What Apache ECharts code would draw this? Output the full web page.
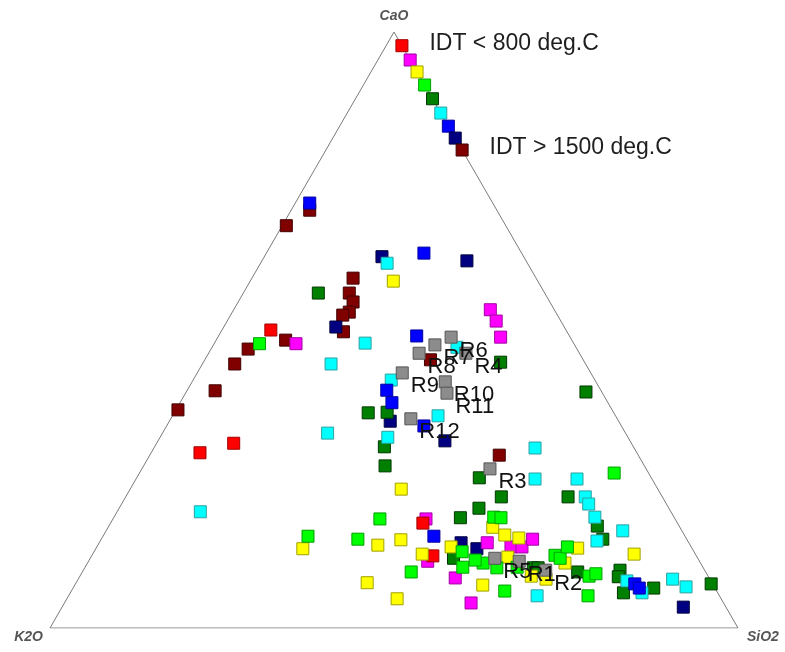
<!DOCTYPE html>
<html>
<head>
<meta charset="utf-8">
<script src="https://cdn.jsdelivr.net/npm/echarts@6/dist/echarts.min.js"></script>
<style>
  html, body { margin: 0; padding: 0; background: #ffffff; }
  #chart { width: 785px; height: 652px; }
</style>
</head>
<body>
<div id="chart"></div>
<script>
// Compositions are [CaO, SiO2, K2O] in percent.
const vertexNames = ['CaO', 'K2O', 'SiO2'];
const vertexComps = [[100, 0, 0], [0, 0, 100], [0, 100, 0]];

// Colour scale of the initial deformation temperature (IDT), low to high.
const scaleColors = ['#ff0000', '#ff00ff', '#ffff00', '#00ff00', '#008000', '#00ffff', '#0000ff', '#000080', '#800000'];
const scaleBorders = ['#a00000', '#a000a0', '#a0a000', '#00a000', '#003800', '#30a0a0', '#0000a0', '#000040', '#400000'];
const scaleCaO = [97.7, 95.3, 93.3, 91.1, 88.8, 86.4, 84.2, 82.2, 80.2];
const scaleText = ['IDT < 800 deg.C', '', '', '', '', '', '', '', 'IDT > 1500 deg.C'];

const redPts = [
  [50.0, 7.1, 42.9], [29.4, 7.1, 63.5], [31.0, 11.2, 57.8], [12.1, 49.6, 38.3], [17.6, 45.4, 37.0]
];
const magentaPts = [
  [47.7, 11.9, 40.4], [53.4, 37.3, 9.3], [51.5, 39.1, 9.4], [48.8, 41.1, 10.1], [18.3, 45.5, 36.2],
  [11.2, 49.3, 39.5], [8.4, 54.7, 36.9], [4.2, 59.1, 36.7], [14.3, 56.4, 29.3], [13.6, 60.2, 26.2],
  [13.6, 61.8, 24.6], [14.9, 62.7, 22.4]
];
const yellowPts = [
  [58.2, 20.8, 21.0], [23.3, 39.4, 37.3], [13.3, 30.1, 56.6], [13.9, 40.7, 45.4], [14.8, 43.6, 41.6],
  [7.6, 42.3, 50.1], [4.9, 48.0, 47.1], [12.4, 47.9, 39.7], [13.6, 51.5, 34.9], [16.9, 55.9, 27.2],
  [15.6, 58.3, 26.1], [15.1, 60.6, 24.3], [11.9, 60.6, 27.5], [7.2, 59.3, 33.5], [8.2, 68.0, 23.8],
  [10.9, 69.4, 19.7], [13.4, 70.0, 16.6], [12.4, 78.7, 8.9], [8.7, 65.6, 25.7]
];
const limePts = [
  [47.7, 6.6, 45.7], [15.4, 29.8, 54.8], [14.9, 37.3, 47.8], [18.3, 38.8, 42.9], [9.4, 47.8, 42.8],
  [12.8, 53.5, 33.7], [10.2, 54.9, 34.9], [10.9, 57.5, 31.6], [18.6, 55.2, 26.2], [18.5, 56.3, 25.2],
  [10.1, 59.9, 30.0], [6.2, 63.0, 30.8], [10.2, 62.8, 27.0], [12.2, 67.3, 20.5], [11.7, 68.3, 20.0],
  [13.6, 68.4, 18.0], [5.4, 75.5, 19.1], [8.7, 74.0, 17.3], [9.1, 74.8, 16.1], [26.0, 69.0, 5.0],
  [11.4, 56.1, 32.5]
];
const greenPts = [
  [56.2, 10.9, 32.9], [44.6, 43.2, 12.2], [36.1, 28.2, 35.7], [36.2, 30.9, 32.9], [30.4, 33.4, 36.2],
  [27.2, 35.1, 37.7], [39.6, 58.1, 2.3], [25.2, 49.8, 25.0], [22.0, 54.6, 23.4], [20.1, 52.3, 27.6],
  [18.5, 50.4, 31.1], [11.7, 52.8, 35.5], [10.1, 65.2, 24.7], [10.1, 65.9, 24.0], [22.0, 64.3, 13.7],
  [17.1, 71.0, 11.9], [14.9, 72.9, 12.2], [9.4, 72.0, 18.6], [9.7, 78.0, 12.3], [8.6, 78.3, 13.1],
  [5.9, 80.4, 13.7], [6.7, 84.4, 8.9], [7.4, 92.4, 0.2]
];
const cyanPts = [
  [61.2, 18.4, 20.4], [47.8, 21.9, 30.3], [44.3, 18.7, 37.0], [32.7, 24.0, 43.3], [19.5, 12.1, 68.4],
  [41.6, 28.8, 29.6], [47.1, 35.6, 17.3], [35.6, 38.6, 25.8], [32.0, 33.1, 34.9], [30.2, 55.4, 14.4],
  [25.0, 58.0, 17.0], [25.0, 64.1, 10.9], [22.0, 66.8, 11.2], [20.8, 67.9, 11.3], [18.6, 69.9, 11.5],
  [14.6, 72.2, 13.2], [16.3, 75.1, 8.6], [5.4, 68.1, 26.5], [7.9, 79.9, 12.2], [5.9, 83.1, 11.0],
  [8.2, 86.4, 5.4], [6.9, 89.0, 4.1]
];
const bluePts = [
  [71.3, 2.1, 26.6], [62.9, 22.9, 14.2], [49.0, 28.8, 22.2], [39.9, 29.0, 31.1], [37.8, 30.8, 31.4],
  [33.9, 37.4, 28.7], [15.4, 48.1, 36.5], [7.4, 81.3, 11.3], [6.7, 82.3, 11.0]
];
const navyPts = [
  [62.3, 17.1, 20.6], [61.6, 29.8, 8.6], [50.5, 16.3, 33.2], [34.7, 32.1, 33.2], [31.4, 41.7, 26.9],
  [14.3, 52.6, 33.1], [13.3, 55.4, 31.3], [3.5, 90.3, 6.2]
];
const maroonPts = [
  [70.1, 2.7, 27.2], [67.5, 0.6, 31.9], [58.7, 14.7, 26.6], [56.2, 15.4, 28.4], [54.7, 16.7, 28.6],
  [53.0, 17.0, 30.0], [52.5, 16.3, 31.2], [49.7, 17.8, 32.5], [48.3, 10.1, 41.6], [46.8, 5.4, 47.8],
  [44.3, 4.7, 51.0], [39.8, 4.1, 56.1], [36.6, 0.3, 63.1], [45.0, 32.8, 22.2], [29.0, 50.8, 20.2]
];

// Reference samples R1..R12
const refNames = ['R1', 'R2', 'R3', 'R4', 'R5', 'R6', 'R7', 'R8', 'R9', 'R10', 'R11', 'R12'];
const refPts = [
  [11.2, 62.6, 26.2], [9.7, 67.2, 23.1], [26.7, 50.6, 22.7], [46.1, 37.4, 16.5], [11.7, 58.8, 29.5],
  [48.8, 33.9, 17.3], [47.5, 32.2, 20.3], [46.1, 30.6, 23.3], [42.8, 29.8, 27.4], [41.3, 36.8, 21.9],
  [39.4, 38.0, 22.6], [35.1, 34.9, 30.0]
];

// Ternary -> cartesian (SiO2 corner at right, K2O at left, CaO at top)
const H = Math.sqrt(3) / 2;
function toXY(p) {
  const t = p[0] + p[1] + p[2];
  const c = p[0] / t, s = p[1] / t;
  return [100 * (s + c / 2), 100 * c * H];
}

const groups = [
  { pts: maroonPts, idx: 8 },
  { pts: navyPts, idx: 7 },
  { pts: greenPts, idx: 4 },
  { pts: magentaPts, idx: 1 },
  { pts: redPts, idx: 0 },
  { pts: yellowPts, idx: 2 },
  { pts: limePts, idx: 3 },
  { pts: cyanPts, idx: 5 },
  { pts: bluePts, idx: 6 }
];

const series = [];

// Triangle frame
const frame = [vertexComps[1], vertexComps[2], vertexComps[0], vertexComps[1]].map(toXY);
series.push({
  type: 'line', data: frame, symbol: 'none', silent: true, z: 1,
  lineStyle: { color: '#7a7a7a', width: 1 }
});

// Corner names
const cornerPos = [[0, -16], [-7, 9], [9, 9]];
const cornerAlign = ['center', 'right', 'left'];
series.push({
  type: 'scatter', symbolSize: 0, silent: true, z: 1,
  data: vertexComps.map((p, i) => ({
    value: toXY(p), name: vertexNames[i],
    label: { show: true, formatter: '{b}', position: cornerPos[i], align: cornerAlign[i], verticalAlign: 'middle',
      fontFamily: 'Liberation Sans, Arial', fontStyle: 'italic', fontWeight: 'bold', fontSize: 14, color: '#2a2a2a' }
  }))
});

groups.forEach(g => {
  series.push({
    type: 'scatter', symbol: 'rect', symbolSize: 12, silent: true, z: 2,
    data: g.pts.map(toXY),
    itemStyle: { color: scaleColors[g.idx], borderColor: scaleBorders[g.idx], borderWidth: 1, opacity: 1 }
  });
});

// IDT colour scale along the CaO-SiO2 edge
series.push({
  type: 'scatter', symbol: 'rect', symbolSize: 12, silent: true, z: 3,
  data: scaleCaO.map((c, i) => ({
    value: toXY([c, 100 - c, 0]), name: scaleText[i],
    itemStyle: { color: scaleColors[i], borderColor: scaleBorders[i], borderWidth: 1, opacity: 1 },
    label: { show: scaleText[i] !== '', formatter: '{b}', position: 'right', distance: 21, offset: [0, -2],
      fontFamily: 'Liberation Sans, Arial', fontSize: 23, color: '#1e1e1e' }
  }))
});

// Reference samples with their names
series.push({
  type: 'scatter', symbol: 'rect', symbolSize: 12, silent: true, z: 4,
  data: refPts.map((p, i) => ({ value: toXY(p), name: refNames[i] })),
  itemStyle: { color: '#8c8c8c', borderColor: '#555555', borderWidth: 1, opacity: 1 },
  label: { show: true, formatter: '{b}', position: [15, 20], align: 'left', verticalAlign: 'middle',
    fontFamily: 'Liberation Sans, Arial', fontSize: 22, color: '#111111' }
});

const chart = echarts.init(document.getElementById('chart'), null, { renderer: 'canvas' });
chart.setOption({
  animation: false,
  backgroundColor: '#ffffff',
  grid: { left: 50, right: 47, top: 32, bottom: 24 },
  xAxis: { type: 'value', min: 0, max: 100, show: false },
  yAxis: { type: 'value', min: 0, max: 100 * H, show: false },
  series: series
});
</script>
</body>
</html>
